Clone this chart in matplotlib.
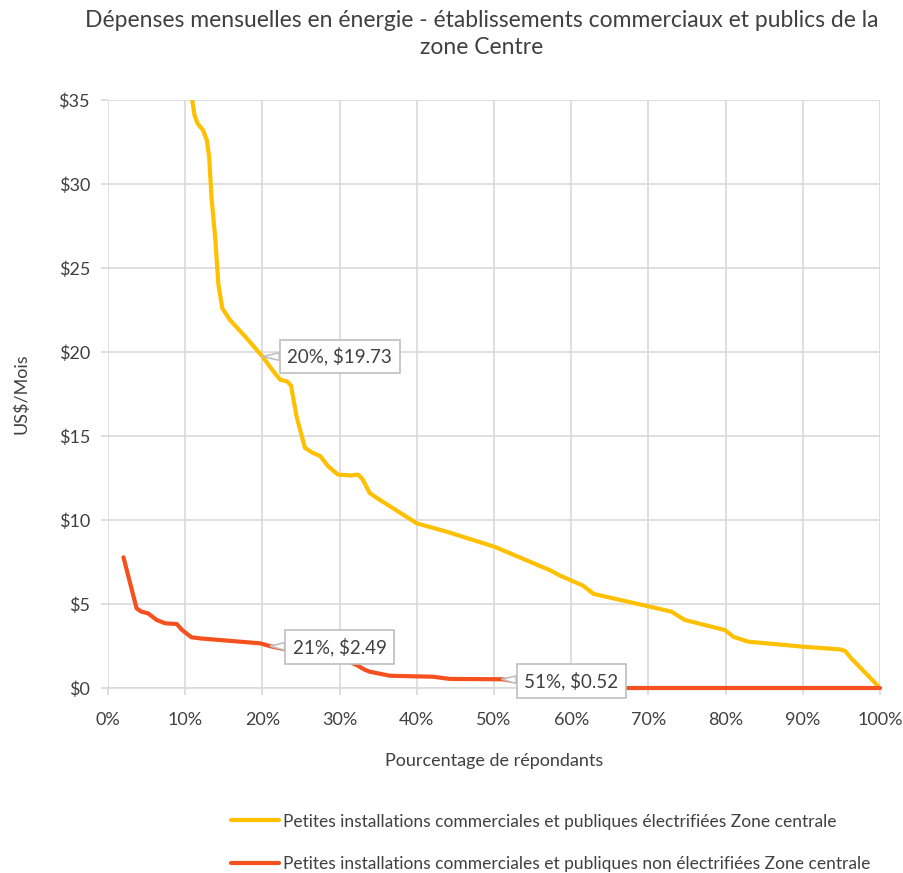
import matplotlib.pyplot as plt
from matplotlib.ticker import FuncFormatter

plt.rcParams['font.family'] = ['Lato', 'DejaVu Sans']

# courbe jaune - électrifiées (pct, US$/mois)
elec_pct = [10.5, 10.9, 11.2, 11.6, 12.3, 12.8, 13.1, 13.4, 13.9, 14.3, 14.8, 15.8,
            18.0, 20.0, 21.5, 22.3, 23.2, 23.7, 24.4, 25.5, 26.5, 27.5, 28.5, 29.8,
            31.5, 32.4, 33.0, 33.9, 35.2, 40.0, 43.9, 50.1, 57.3, 58.5, 61.5, 62.9,
            70.2, 73.0, 74.0, 74.7, 79.9, 81.0, 82.9, 90.0, 94.8, 95.5, 96.2, 100.0]
elec_val = [38.0, 35.0, 34.1, 33.6, 33.2, 32.6, 31.6, 29.2, 26.7, 24.0, 22.6, 21.9,
            20.8, 19.73, 18.8, 18.35, 18.25, 18.0, 16.2, 14.3, 14.0, 13.8, 13.2, 12.7,
            12.65, 12.7, 12.4, 11.6, 11.2, 9.8, 9.3, 8.4, 7.0, 6.7, 6.1, 5.6,
            4.84, 4.54, 4.25, 4.05, 3.45, 3.05, 2.76, 2.46, 2.3, 2.2, 1.8, 0.0]

# courbe rouge - non électrifiées
nonelec_pct = [2.0, 3.7, 4.3, 5.2, 6.3, 7.4, 8.9, 9.6, 10.8, 12.0, 19.7, 21.0, 24.0,
               28.0, 31.0, 32.2, 33.2, 33.9, 36.5, 42.1, 44.3, 51.0, 52.5, 56.0, 58.0, 100.0]
nonelec_val = [7.78, 4.74, 4.55, 4.44, 4.05, 3.85, 3.81, 3.45, 3.02, 2.95, 2.66, 2.49, 2.2,
               1.8, 1.6, 1.37, 1.1, 0.97, 0.73, 0.67, 0.54, 0.52, 0.42, 0.3, 0.0, 0.0]

labels = [
    ("20%, $19.73", 20.0, 19.73, 30.0, 19.73, '#FFC000'),
    ("21%, $2.49", 21.0, 2.49, 30.0, 2.45, '#F4511E'),
    ("51%, $0.52", 51.0, 0.52, 60.0, 0.4, '#F4511E'),
]

fig = plt.figure(figsize=(9.04, 8.73), dpi=100)
ax = fig.add_axes([0.1195, 0.2119, 0.854, 0.6736])

l1, = ax.plot(elec_pct, elec_val, color='#FFC000', lw=3, solid_joinstyle='round',
              solid_capstyle='round', zorder=3)
l2, = ax.plot(nonelec_pct, nonelec_val, color='#F4511E', lw=3, solid_joinstyle='round',
              solid_capstyle='round', zorder=3, clip_on=False)

ax.set_xlim(0, 100)
ax.set_ylim(0, 35)
ax.set_xticks(range(0, 101, 10))
ax.set_yticks(range(0, 36, 5))
ax.xaxis.set_major_formatter(FuncFormatter(lambda v, p: f"{int(v)}%"))
ax.yaxis.set_major_formatter(FuncFormatter(lambda v, p: f"${int(v)}"))
ax.grid(True, color='#D9D9D9', lw=1.2)
ax.set_axisbelow(True)
for s in ['top', 'right', 'left']:
    ax.spines[s].set_visible(False)
ax.spines['bottom'].set_color('#D9D9D9')
ax.spines['bottom'].set_linewidth(1.2)
ax.tick_params(colors='#D9D9D9', labelcolor='#404040', labelsize=13, length=5, width=1.2)
ax.tick_params(axis='x', pad=12)
ax.tick_params(axis='y', pad=8)

ax.set_xlabel("Pourcentage de répondants", fontsize=13, color='#404040', labelpad=18)
ax.set_ylabel("US$/Mois", fontsize=13, color='#404040', labelpad=21)
fig.text(0.533, 0.988, "Dépenses mensuelles en énergie - établissements commerciaux et publics de la\nzone Centre",
         fontsize=16.5, color='#404040', ha='center', va='top', linespacing=1.3)

for txt, x, y, tx, ty, c in labels:
    ax.annotate(txt, xy=(x, y), xytext=(tx, ty), fontsize=13.5, color='#404040',
                ha='center', va='center', zorder=5,
                bbox=dict(boxstyle='square,pad=0.4', fc='white', ec='#BFBFBF', lw=1.2),
                arrowprops=dict(arrowstyle='wedge,tail_width=0.4', fc='white',
                                ec='#BFBFBF', lw=1.2, shrinkA=0, shrinkB=0))

fig.legend([l1, l2],
           ["Petites installations commerciales et publiques électrifiées Zone centrale",
            "Petites installations commerciales et publiques non électrifiées Zone centrale"],
           loc='upper left', bbox_to_anchor=(0.238, 0.086), frameon=False,
           fontsize=12.5, handlelength=2.8, handletextpad=0.2, labelspacing=1.55,
           labelcolor='#404040')

fig.savefig("out.png", dpi=100)
